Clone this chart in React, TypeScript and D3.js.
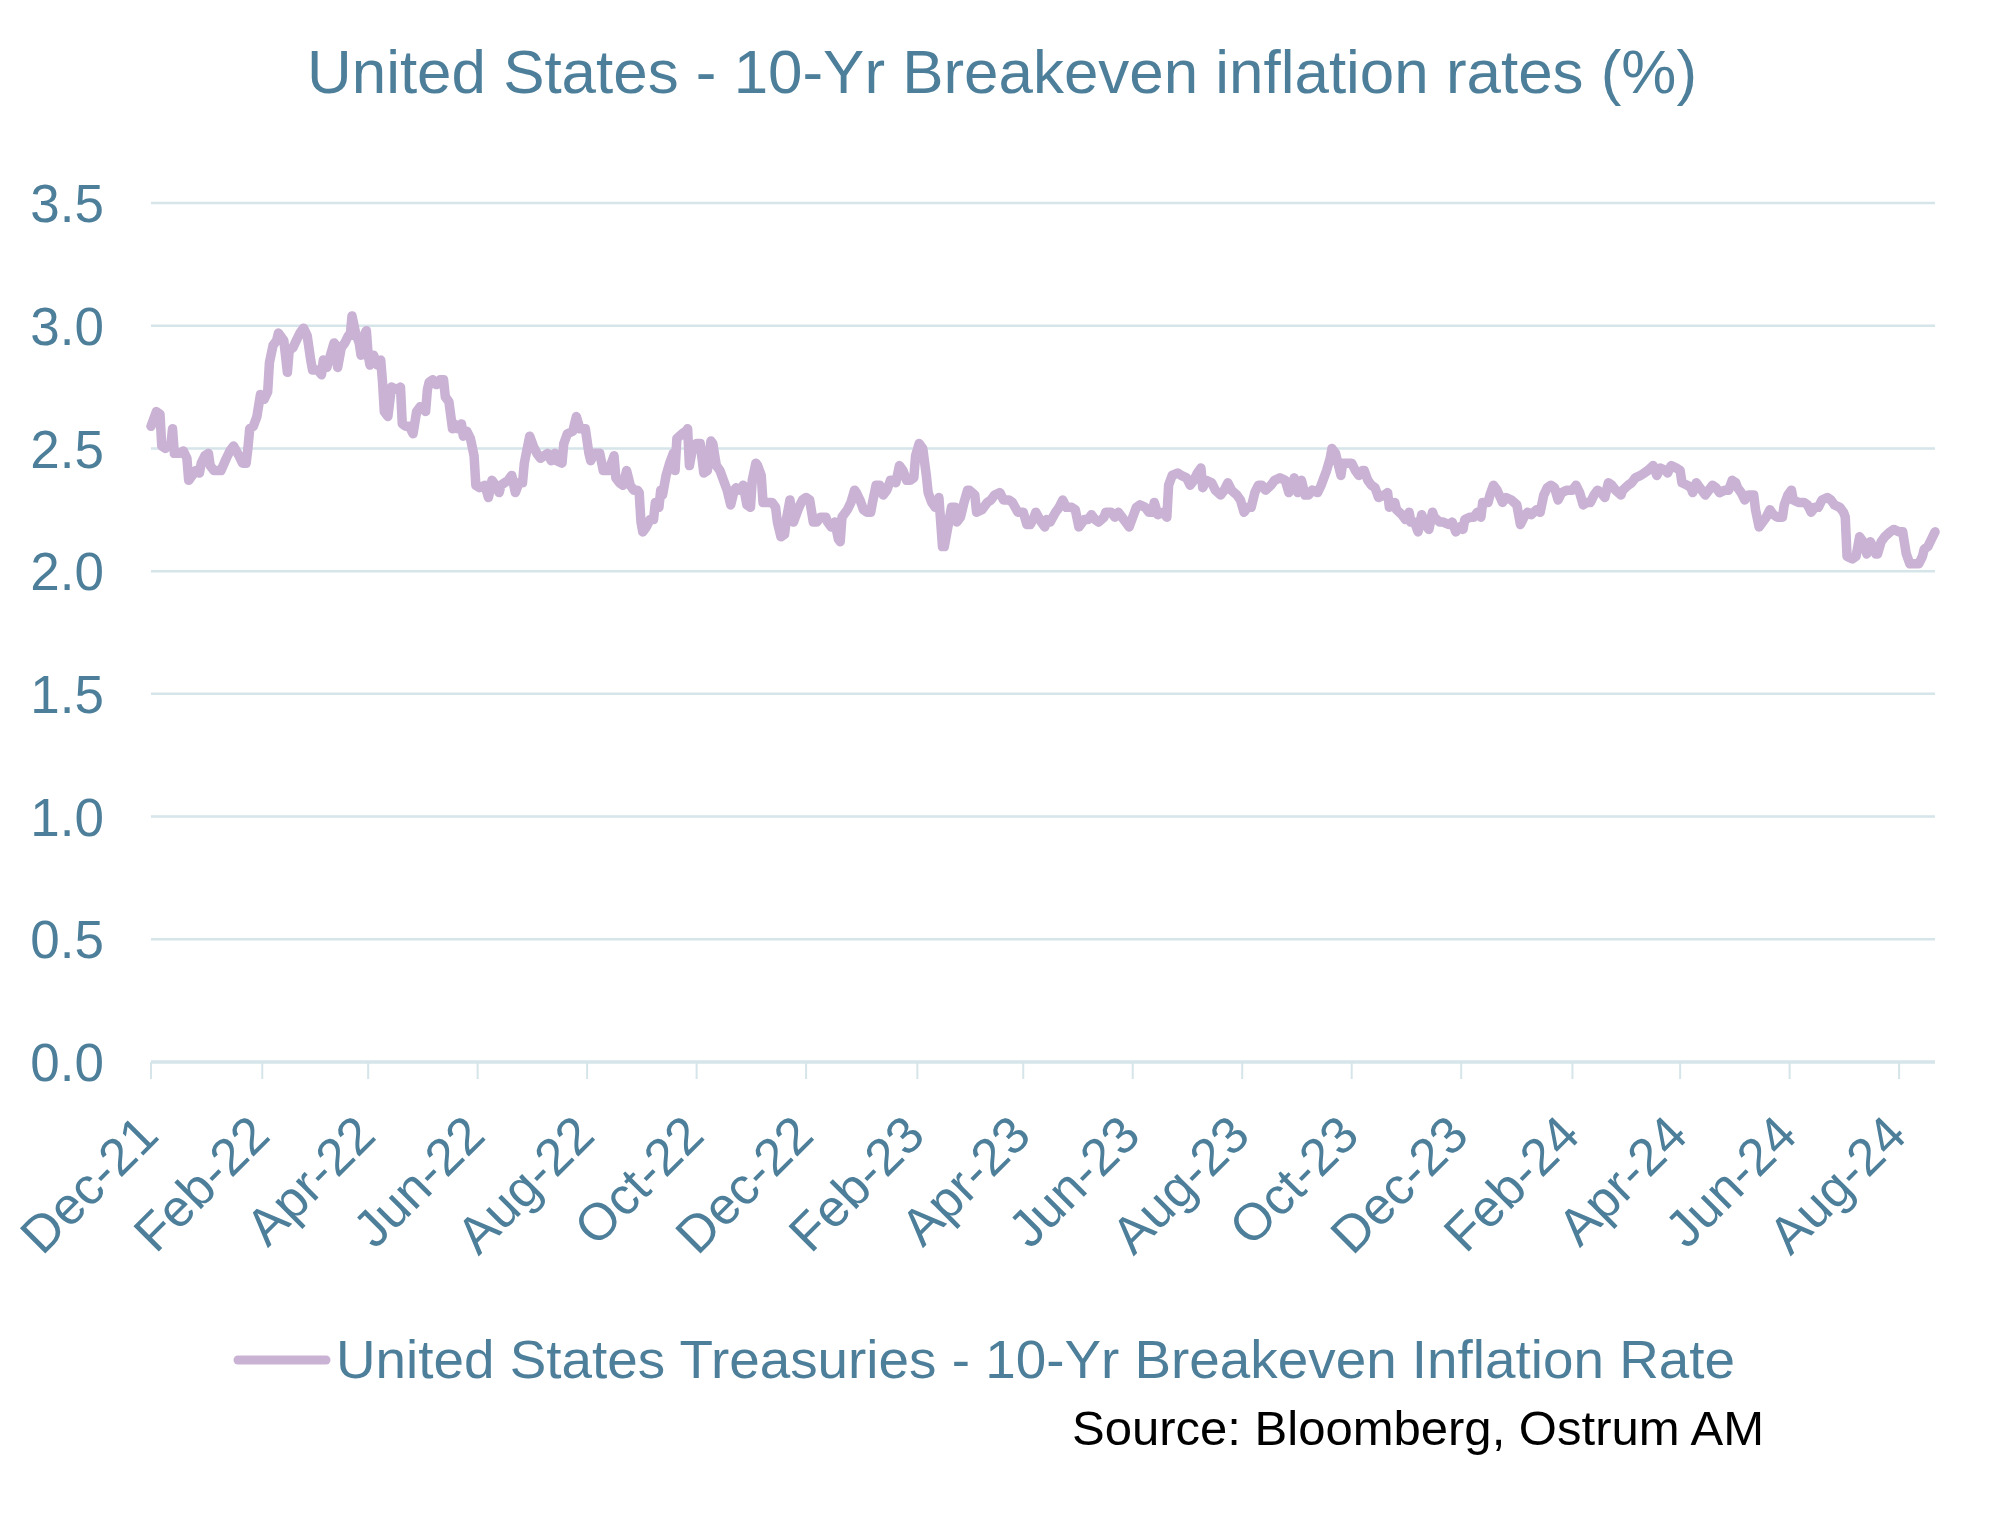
import React from "react";
import * as d3 from "d3";

const TITLE = "United States - 10-Yr Breakeven inflation rates (%)";
const SERIES_NAME = "United States Treasuries - 10-Yr Breakeven Inflation Rate";
const SOURCE = "Source: Bloomberg, Ostrum AM";

const yTicks = [0, 0.5, 1.0, 1.5, 2.0, 2.5, 3.0, 3.5];
const xTickDates = [
  "2021-12-01", "2022-02-01", "2022-04-01", "2022-06-01", "2022-08-01", "2022-10-01",
  "2022-12-01", "2023-02-01", "2023-04-01", "2023-06-01", "2023-08-01", "2023-10-01",
  "2023-12-01", "2024-02-01", "2024-04-01", "2024-06-01", "2024-08-01",
];
const xDomain = ["2021-12-01", "2024-08-21"];

const dates = [
  "2021-12-01","2021-12-04","2021-12-06","2021-12-07","2021-12-09","2021-12-10","2021-12-12","2021-12-13","2021-12-14","2021-12-15",
  "2021-12-17","2021-12-19","2021-12-21","2021-12-22","2021-12-24","2021-12-26","2021-12-28","2021-12-29","2021-12-31","2022-01-02",
  "2022-01-03","2022-01-05","2022-01-08","2022-01-09","2022-01-12","2022-01-14","2022-01-16","2022-01-19","2022-01-21","2022-01-23",
  "2022-01-24","2022-01-25","2022-01-27","2022-01-29","2022-01-31","2022-02-02","2022-02-04","2022-02-05","2022-02-07","2022-02-09",
  "2022-02-10","2022-02-12","2022-02-13","2022-02-15","2022-02-16","2022-02-18","2022-02-20","2022-02-22","2022-02-24","2022-02-26",
  "2022-02-28","2022-03-01","2022-03-04","2022-03-06","2022-03-07","2022-03-09","2022-03-11","2022-03-13","2022-03-14","2022-03-15",
  "2022-03-17","2022-03-19","2022-03-21","2022-03-22","2022-03-23","2022-03-25","2022-03-27","2022-03-28","2022-03-29","2022-03-31",
  "2022-04-01","2022-04-02","2022-04-04","2022-04-06","2022-04-08","2022-04-09","2022-04-10","2022-04-12","2022-04-14","2022-04-17",
  "2022-04-19","2022-04-20","2022-04-22","2022-04-24","2022-04-26","2022-04-28","2022-04-30","2022-05-03","2022-05-04","2022-05-05",
  "2022-05-07","2022-05-09","2022-05-11","2022-05-13","2022-05-14","2022-05-16","2022-05-18","2022-05-19","2022-05-21","2022-05-23",
  "2022-05-24","2022-05-26","2022-05-28","2022-05-30","2022-05-31","2022-06-02","2022-06-05","2022-06-07","2022-06-09","2022-06-11",
  "2022-06-13","2022-06-14","2022-06-16","2022-06-18","2022-06-20","2022-06-22","2022-06-24","2022-06-26","2022-06-27","2022-06-30",
  "2022-07-02","2022-07-04","2022-07-06","2022-07-08","2022-07-10","2022-07-12","2022-07-14","2022-07-15","2022-07-18","2022-07-19",
  "2022-07-21","2022-07-24","2022-07-26","2022-07-28","2022-07-31","2022-08-02","2022-08-03","2022-08-05",
  "2022-08-08","2022-08-10","2022-08-13","2022-08-16","2022-08-17","2022-08-19","2022-08-21","2022-08-23","2022-08-25","2022-08-27",
  "2022-08-29","2022-08-30","2022-08-31","2022-09-01","2022-09-03","2022-09-05","2022-09-07","2022-09-08","2022-09-10","2022-09-11",
  "2022-09-12","2022-09-14","2022-09-16","2022-09-18","2022-09-19","2022-09-20","2022-09-23","2022-09-25","2022-09-26","2022-09-27",
  "2022-09-29","2022-10-01","2022-10-03","2022-10-05","2022-10-07","2022-10-09","2022-10-10","2022-10-12","2022-10-14","2022-10-16",
  "2022-10-18","2022-10-20","2022-10-22","2022-10-23","2022-10-25","2022-10-27","2022-10-29","2022-10-31","2022-11-01","2022-11-03",
  "2022-11-04","2022-11-06","2022-11-07","2022-11-09","2022-11-12","2022-11-14","2022-11-15","2022-11-17","2022-11-19","2022-11-20",
  "2022-11-22","2022-11-24","2022-11-25","2022-11-27","2022-11-29","2022-12-01","2022-12-03","2022-12-05","2022-12-07","2022-12-09",
  "2022-12-12","2022-12-13","2022-12-15","2022-12-17","2022-12-19","2022-12-20","2022-12-21","2022-12-24","2022-12-26","2022-12-28",
  "2022-12-29","2022-12-31","2023-01-02","2023-01-04","2023-01-06","2023-01-07","2023-01-09","2023-01-11","2023-01-13","2023-01-15",
  "2023-01-17","2023-01-19","2023-01-20","2023-01-22","2023-01-24","2023-01-26","2023-01-28","2023-01-30","2023-01-31","2023-02-02",
  "2023-02-04","2023-02-06","2023-02-07","2023-02-09","2023-02-11","2023-02-13","2023-02-15","2023-02-16","2023-02-17","2023-02-19",
  "2023-02-20","2023-02-22","2023-02-23","2023-02-25","2023-02-27","2023-03-01","2023-03-02","2023-03-05","2023-03-06","2023-03-09",
  "2023-03-12","2023-03-14","2023-03-16","2023-03-19","2023-03-21","2023-03-24","2023-03-26","2023-03-29","2023-04-01","2023-04-03",
  "2023-04-05","2023-04-07","2023-04-08","2023-04-11","2023-04-13","2023-04-14",
  "2023-04-16","2023-04-19","2023-04-21","2023-04-23","2023-04-25","2023-04-28","2023-04-30","2023-05-02","2023-05-05","2023-05-07",
  "2023-05-09","2023-05-11","2023-05-13","2023-05-16","2023-05-17","2023-05-20","2023-05-22","2023-05-24","2023-05-26","2023-05-28",
  "2023-05-30","2023-06-01","2023-06-03","2023-06-05","2023-06-08","2023-06-10","2023-06-12","2023-06-13","2023-06-15","2023-06-18",
  "2023-06-20","2023-06-21","2023-06-23","2023-06-26","2023-06-28","2023-07-01","2023-07-03","2023-07-05","2023-07-07","2023-07-09",
  "2023-07-10","2023-07-12","2023-07-15","2023-07-17","2023-07-20","2023-07-22","2023-07-24","2023-07-26","2023-07-29","2023-07-31",
  "2023-08-02","2023-08-04","2023-08-06","2023-08-08","2023-08-10","2023-08-12","2023-08-14","2023-08-17","2023-08-19","2023-08-22",
  "2023-08-25","2023-08-27","2023-08-30","2023-09-01","2023-09-03","2023-09-05","2023-09-07","2023-09-09","2023-09-12","2023-09-14",
  "2023-09-17","2023-09-19","2023-09-20","2023-09-22","2023-09-24","2023-09-25","2023-09-26","2023-09-28","2023-10-01","2023-10-03",
  "2023-10-05","2023-10-07","2023-10-08","2023-10-10","2023-10-12","2023-10-14","2023-10-16","2023-10-19","2023-10-21","2023-10-22",
  "2023-10-25","2023-10-26","2023-10-29","2023-10-31","2023-11-02","2023-11-03","2023-11-05","2023-11-07","2023-11-09","2023-11-11",
  "2023-11-13","2023-11-15","2023-11-16","2023-11-19","2023-11-21","2023-11-24","2023-11-26","2023-11-28","2023-11-30","2023-12-02",
  "2023-12-03","2023-12-06","2023-12-08","2023-12-10","2023-12-12","2023-12-13","2023-12-16","2023-12-17","2023-12-19","2023-12-21",
  "2023-12-24","2023-12-26","2023-12-29","2024-01-01","2024-01-03","2024-01-05","2024-01-07","2024-01-09","2024-01-12","2024-01-14",
  "2024-01-16","2024-01-18","2024-01-20","2024-01-22","2024-01-24","2024-01-26","2024-01-29","2024-02-01","2024-02-03","2024-02-05",
  "2024-02-07","2024-02-09","2024-02-11","2024-02-13","2024-02-15","2024-02-17","2024-02-19","2024-02-21","2024-02-23","2024-02-25",
  "2024-02-28","2024-02-29","2024-03-03","2024-03-05","2024-03-07","2024-03-10","2024-03-12","2024-03-14","2024-03-17","2024-03-19",
  "2024-03-21","2024-03-24","2024-03-25","2024-03-27","2024-03-30","2024-04-01","2024-04-02","2024-04-05","2024-04-07","2024-04-08",
  "2024-04-10","2024-04-12","2024-04-15","2024-04-17","2024-04-19","2024-04-21","2024-04-23","2024-04-26","2024-04-28","2024-04-30",
  "2024-05-02","2024-05-03","2024-05-05","2024-05-07","2024-05-09","2024-05-12","2024-05-13","2024-05-15","2024-05-17","2024-05-19",
  "2024-05-21","2024-05-23","2024-05-25","2024-05-28","2024-05-29","2024-05-31","2024-06-02","2024-06-03","2024-06-06","2024-06-09",
  "2024-06-11","2024-06-13","2024-06-15","2024-06-17","2024-06-19","2024-06-22","2024-06-24","2024-06-26","2024-06-29","2024-07-01",
  "2024-07-02","2024-07-03","2024-07-06","2024-07-08","2024-07-10","2024-07-12","2024-07-14","2024-07-16","2024-07-19","2024-07-20",
  "2024-07-22","2024-07-24","2024-07-27","2024-07-29","2024-08-01","2024-08-03","2024-08-05","2024-08-07","2024-08-09","2024-08-12",
  "2024-08-14","2024-08-15","2024-08-17","2024-08-19","2024-08-21",
];

const values = [
  2.59,2.65,2.64,2.51,2.50,2.51,2.51,2.58,2.48,2.48,
  2.48,2.49,2.46,2.37,2.39,2.41,2.40,2.44,2.47,2.48,
  2.43,2.41,2.41,2.41,2.46,2.49,2.51,2.47,2.44,2.44,
  2.50,2.58,2.59,2.63,2.72,2.70,2.73,2.85,2.92,2.94,
  2.97,2.95,2.94,2.81,2.90,2.91,2.94,2.97,2.99,2.96,
  2.86,2.82,2.82,2.80,2.86,2.83,2.88,2.93,2.92,2.83,
  2.91,2.93,2.96,2.96,3.04,2.97,2.93,2.88,2.95,2.98,
  2.88,2.84,2.88,2.84,2.86,2.77,2.65,2.63,2.75,2.74,
  2.75,2.60,2.59,2.59,2.56,2.65,2.67,2.65,2.74,2.77,
  2.78,2.76,2.78,2.78,2.71,2.69,2.58,2.60,2.58,2.60,
  2.55,2.57,2.54,2.47,2.35,2.34,2.35,2.30,2.37,2.35,
  2.32,2.35,2.36,2.37,2.39,2.32,2.36,2.36,2.44,2.55,
  2.51,2.48,2.46,2.47,2.48,2.45,2.48,2.45,2.44,2.52,
  2.56,2.57,2.63,2.58,2.58,2.48,2.45,2.48,
  2.48,2.41,2.41,2.47,2.38,2.36,2.35,2.41,2.35,2.33,
  2.33,2.32,2.20,2.16,2.18,2.21,2.21,2.28,2.26,2.33,
  2.31,2.39,2.44,2.48,2.41,2.54,2.56,2.57,2.58,2.43,
  2.51,2.52,2.52,2.40,2.41,2.53,2.52,2.43,2.41,2.37,
  2.33,2.27,2.33,2.34,2.33,2.35,2.27,2.26,2.37,2.44,
  2.43,2.39,2.28,2.28,2.28,2.26,2.20,2.14,2.15,2.21,
  2.29,2.20,2.22,2.26,2.29,2.30,2.29,2.20,2.20,2.22,
  2.22,2.20,2.18,2.20,2.13,2.12,2.22,2.25,2.28,2.33,
  2.32,2.29,2.25,2.24,2.24,2.28,2.35,2.35,2.31,2.33,
  2.37,2.37,2.36,2.43,2.41,2.37,2.37,2.38,2.47,2.52,
  2.50,2.39,2.32,2.28,2.26,2.30,2.10,2.10,2.14,2.22,
  2.26,2.26,2.20,2.22,2.28,2.33,2.33,2.31,2.24,2.25,
  2.28,2.29,2.31,2.32,2.29,2.29,2.28,2.24,2.24,2.19,
  2.19,2.22,2.24,2.20,2.18,2.21,
  2.20,2.24,2.26,2.29,2.26,2.26,2.25,2.18,2.21,2.21,
  2.23,2.21,2.20,2.22,2.24,2.24,2.22,2.24,2.22,2.20,
  2.18,2.22,2.26,2.27,2.26,2.24,2.24,2.28,2.23,2.24,
  2.22,2.35,2.39,2.40,2.39,2.38,2.35,2.37,2.40,2.42,
  2.34,2.37,2.36,2.33,2.31,2.33,2.36,2.33,2.31,2.29,
  2.24,2.26,2.26,2.32,2.35,2.35,2.33,2.35,2.37,2.38,
  2.37,2.32,2.38,2.32,2.37,2.31,2.31,2.33,2.32,2.35,
  2.41,2.46,2.50,2.48,2.42,2.39,2.44,2.44,2.44,2.41,
  2.39,2.41,2.41,2.37,2.35,2.34,2.30,2.31,2.32,2.26,
  2.28,2.25,2.23,2.21,2.24,2.20,2.20,2.16,2.23,2.19,
  2.17,2.24,2.22,2.20,2.20,2.19,2.20,2.16,2.18,2.17,
  2.21,2.22,2.22,2.24,2.22,2.28,2.28,2.31,2.35,2.33,
  2.28,2.30,2.29,2.27,2.19,2.22,2.24,2.23,2.25,2.24,
  2.31,2.34,2.35,2.34,2.29,2.32,2.33,2.33,2.35,2.32,
  2.27,2.28,2.28,2.31,2.33,2.32,2.30,2.36,2.35,2.33,
  2.31,2.33,2.35,2.36,2.38,2.39,2.40,2.41,2.43,2.39,
  2.42,2.41,2.40,2.43,2.42,2.41,2.36,2.35,2.34,2.32,
  2.36,2.34,2.31,2.33,2.35,2.34,2.32,2.33,2.33,2.37,
  2.36,2.34,2.32,2.29,2.31,2.31,2.25,2.18,2.20,2.22,
  2.25,2.23,2.22,2.22,2.27,2.31,2.33,2.29,2.28,2.28,
  2.27,2.24,2.26,2.26,2.29,2.30,2.29,2.27,2.26,2.24,
  2.22,2.06,2.05,2.06,2.14,2.12,2.07,2.12,2.07,2.07,
  2.12,2.14,2.16,2.17,2.16,2.16,2.07,2.03,2.03,2.03,
  2.06,2.09,2.10,2.13,2.16,
];

const W = 2005;
const H = 1513;
const TEXT = "#4d7f9a";
const GRID = "#d5e5e9";
const LINE = "#c9b2d4";
const FONT = "'Liberation Sans', Arial, sans-serif";

export default function App() {
  const parse = d3.utcParse("%Y-%m-%d");
  const fmt = d3.utcFormat("%b-%y");
  const data = dates.map((d, i) => ({ date: parse(d) as Date, value: values[i] }));

  const x = d3.scaleUtc().domain(xDomain.map((d) => parse(d) as Date)).range([151, 1935]);
  const y = d3.scaleLinear().domain([0, 3.5]).range([1062, 203]);

  const line = d3
    .line<{ date: Date; value: number }>()
    .x((d) => x(d.date))
    .y((d) => y(d.value))
    .curve(d3.curveLinear);

  return (
    <svg width={W} height={H} style={{ position: "absolute", left: 0, top: 0, background: "#fff" }}>
      <rect x={0} y={0} width={W} height={H} fill="#ffffff" />
      <text x={1002} y={93} textAnchor="middle" fontFamily={FONT} fontSize={61} fill={TEXT} textLength={1390} lengthAdjust="spacingAndGlyphs">
        {TITLE}
      </text>

      {yTicks.map((t) => (
        <g key={t}>
          {t > 0 && <line x1={151} x2={1935} y1={y(t)} y2={y(t)} stroke={GRID} strokeWidth={2.5} />}
          <text x={104} y={y(t)} dy="0.36em" textAnchor="end" fontFamily={FONT} fontSize={53} fill={TEXT}>
            {t.toFixed(1)}
          </text>
        </g>
      ))}

      <line x1={151} x2={1935} y1={y(0)} y2={y(0)} stroke={GRID} strokeWidth={3.5} />
      {xTickDates.map((d) => {
        const dt = parse(d) as Date;
        const px = x(dt);
        return (
          <g key={d}>
            <line x1={px} x2={px} y1={y(0)} y2={y(0) + 17} stroke={GRID} strokeWidth={2} />
            <text
              transform={`translate(${px - 3},${1125}) rotate(-45)`}
              textAnchor="end"
              dy="0.35em"
              fontFamily={FONT}
              fontSize={52}
              fill={TEXT}
            >
              {fmt(dt)}
            </text>
          </g>
        );
      })}

      <path d={line(data) || ""} fill="none" stroke={LINE} strokeWidth={9.5} strokeLinejoin="round" strokeLinecap="round" />

      <line x1={238} x2={326} y1={1360} y2={1360} stroke={LINE} strokeWidth={9} strokeLinecap="round" />
      <text x={336} y={1378} fontFamily={FONT} fontSize={54.5} fill={TEXT} textLength={1399} lengthAdjust="spacingAndGlyphs">
        {SERIES_NAME}
      </text>
      <text x={1072} y={1445} fontFamily={FONT} fontSize={48} fill="#000" textLength={692} lengthAdjust="spacingAndGlyphs">
        {SOURCE}
      </text>
    </svg>
  );
}
